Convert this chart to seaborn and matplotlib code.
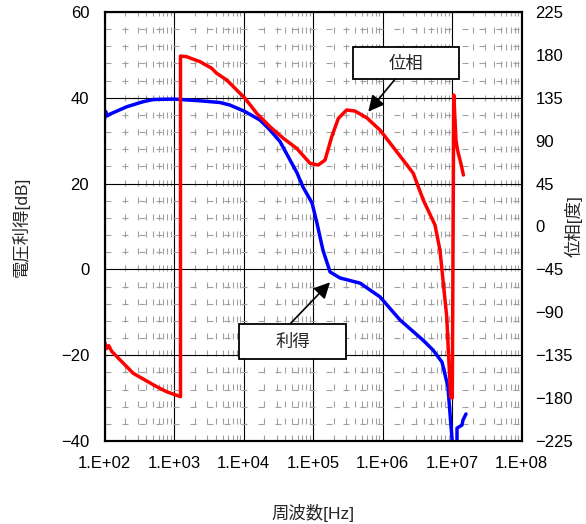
import numpy as np
import pandas as pd
import matplotlib
matplotlib.use("Agg")
import matplotlib.pyplot as plt
from matplotlib.ticker import FixedLocator, FixedFormatter, LogLocator, NullFormatter, MultipleLocator
from matplotlib.patches import Rectangle
import seaborn as sns

# ---------------- data ----------------
freq_gain = [100, 104, 110, 120, 208, 361, 504, 1000, 2365, 4590, 6400, 10500,
             17300, 24000, 33500, 46700, 58900, 71800, 96800, 114000, 139000,
             176000, 245000, 475000, 661000, 920000, 1.79e6, 3.83e6, 5.33e6,
             7.18e6, 8.75e6, 9.35e6, 1.03e7, 1.18e7, 1.18e7, 1.39e7, 1.44e7, 1.59e7]
gain_db = [35.0, 36.8, 35.8, 36.2, 37.9, 39.1, 39.6, 39.7, 39.3, 38.9, 38.3, 36.8,
           34.8, 32.5, 29.8, 25.5, 22.5, 19.2, 15.5, 10.8, 4.5,
           -0.6, -2.0, -3.2, -4.8, -6.4, -11.8, -16.5, -18.8,
           -21.6, -27.4, -33.5, -42.0, -42.0, -37.0, -36.3, -35.1, -33.7]

freq_phase = [100, 108, 115, 127, 259, 563, 785, 1240, 1240, 1520, 2365, 3480, 4110,
              5730, 7980, 10500, 15500, 24000, 37400, 58200, 90600, 119000, 149000,
              186000, 232000, 305000, 402000, 598000, 920000, 1.42e6, 2.25e6, 2.77e6,
              3.86e6, 5.69e6, 6.71e6, 7.1e6, 7.5e6, 8.4e6, 8.85e6, 9.57e6, 1.01e7,
              1.06e7, 1.1e7, 1.14e7, 1.2e7, 1.34e7, 1.46e7]
phase_deg = [-121.0, -128.0, -125.0, -131.0, -154.0, -168.0, -173.3, -178.5, 178.8, 178.1,
             172.9, 166.0, 160.7, 153.7, 143.2, 134.5, 118.7, 104.7, 92.5, 82.0, 66.3,
             64.5, 69.7, 94.2, 113.5, 122.2, 121.1, 113.8, 101.2, 83.4, 64.5, 55.8,
             27.8, 1.6, -24.7, -42.2, -59.6, -94.6, -129.6, -178.6, -180.0,
             137.9, 115.2, 90.7, 80.2, 66.3, 54.0]

x_ticks = [1e2, 1e3, 1e4, 1e5, 1e6, 1e7, 1e8]
x_tick_labels = ["1.E+02", "1.E+03", "1.E+04", "1.E+05", "1.E+06", "1.E+07", "1.E+08"]
gain_ticks = [-40, -20, 0, 20, 40, 60]
phase_ticks = [-225, -180, -135, -90, -45, 0, 45, 90, 135, 180, 225]

xlabel = "周波数[Hz]"
ylabel_gain = "電圧利得[dB]"
ylabel_phase = "位相[度]"
label_phase = "位相"
label_gain = "利得"

# ---------------- style ----------------
sns.set_style("white")
plt.rcParams["font.family"] = ["Liberation Sans", "Noto Sans CJK JP", "DejaVu Sans"]

W, H = 586, 524
fig = plt.figure(figsize=(W / 100, H / 100), dpi=100)
L, R, T, B = 104.5, 521.5, 12, 441
ax = fig.add_axes([L / W, (H - B) / H, (R - L) / W, (B - T) / H])

gdf = pd.DataFrame({"f": freq_gain, "v": gain_db})
pdf = pd.DataFrame({"f": freq_phase, "v": phase_deg})

ax.set_xscale("log")

sns.lineplot(data=gdf, x="f", y="v", ax=ax, sort=False, estimator=None,
             color="#0000ff", lw=2.5)

ax2 = ax.twinx()
sns.lineplot(data=pdf, x="f", y="v", ax=ax2, sort=False, estimator=None,
             color="#ff0000", lw=2.5)

ax.set_xlim(1e2, 1e8)
ax.set_ylim(-40, 60)
ax2.set_ylim(-225, 225)

# ticks & grids (set after plotting so nothing resets them)
ax.xaxis.set_major_locator(FixedLocator(x_ticks))
ax.xaxis.set_major_formatter(FixedFormatter(x_tick_labels))
ax.xaxis.set_minor_locator(LogLocator(base=10, subs=np.arange(2, 10)))
ax.xaxis.set_minor_formatter(NullFormatter())
ax.yaxis.set_major_locator(FixedLocator(gain_ticks))
ax.yaxis.set_minor_locator(MultipleLocator(4))
ax2.yaxis.set_major_locator(FixedLocator(phase_ticks))
ax.grid(which="major", color="black", lw=0.8, ls="-")
ax.grid(which="minor", color="#a0a0a0", lw=0.8, ls=(0, (5.4, 9.9)))
ax.set_axisbelow(True)
ax2.grid(False)

for a in (ax, ax2):
    for s in a.spines.values():
        s.set_color("black")
        s.set_linewidth(1.5)

ax.tick_params(axis="both", which="both", length=0, labelsize=12, colors="black")
ax.tick_params(axis="y", pad=11)
ax.tick_params(axis="x", pad=11)
ax2.tick_params(axis="y", which="both", length=0, labelsize=12, pad=10, colors="black")

ax.set_xlabel(xlabel, fontsize=12.5)
ax.set_ylabel(ylabel_gain, fontsize=12.5)
ax2.set_ylabel(ylabel_phase, fontsize=12.5, rotation=90)
ax.xaxis.set_label_coords(0.5, (B - 504) / (B - T))
ax.yaxis.set_label_coords((30 - L) / (R - L), 0.5)
ax2.yaxis.set_label_coords((565 - L) / (R - L), 0.5)

# annotation boxes
def fx(px):
    return (px - L) / (R - L)

def fy(py):
    return (B - py) / (B - T)

for (x0, x1, y0, y1, txt, tail, tip) in [
    (352.7, 459.3, 47.3, 79.3, label_phase, (395, 79.3), (368.3, 111.7)),
    (239.3, 345.7, 324.0, 359.3, label_gain, (290, 324.0), (330, 282.3)),
]:
    ax2.add_patch(Rectangle((fx(x0), fy(y1)), fx(x1) - fx(x0), fy(y0) - fy(y1),
                            transform=ax2.transAxes, facecolor="white",
                            edgecolor="black", lw=1.3, zorder=10))
    ax2.text((fx(x0) + fx(x1)) / 2, (fy(y0) + fy(y1)) / 2, txt, transform=ax2.transAxes,
             ha="center", va="center", fontsize=12.5, zorder=11)
    ax2.annotate("", xy=(fx(tip[0]), fy(tip[1])), xycoords="axes fraction",
                 xytext=(fx(tail[0]), fy(tail[1])), textcoords="axes fraction",
                 arrowprops=dict(arrowstyle="-|>", color="black", lw=1.2,
                                 mutation_scale=24, shrinkA=0, shrinkB=0),
                 zorder=9)

fig.savefig("out.png", dpi=100)
